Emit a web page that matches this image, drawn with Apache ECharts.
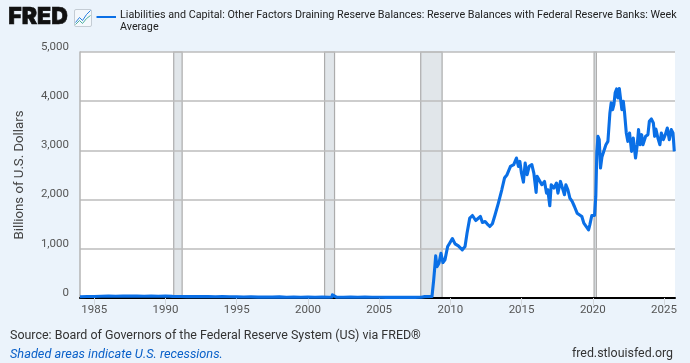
<!DOCTYPE html>
<html><head><meta charset="utf-8">
<script src="https://cdn.jsdelivr.net/npm/echarts@6/dist/echarts.min.js"></script>
<style>html,body{margin:0;padding:0;background:#ebf3fb}#c{width:690px;height:363px}</style>
</head><body><div id="c"></div>
<script>
const seriesName = 'Liabilities and Capital: Other Factors Draining Reserve Balances: Reserve Balances with Federal Reserve Banks: Week\nAverage';
const yAxisTitle = 'Billions of U.S. Dollars';
const yTicks = [0,1000,2000,3000,4000,5000];
const xTicks = [1985,1990,1995,2000,2005,2010,2015,2020,2025];
const years = [1984.0,1984.5,1985,1985.5,1986,1986.5,1987,1987.5,1988,1988.5,1989,1989.5,1990,1990.5,1991,1991.5,1992,1992.5,1993,1993.5,1994,1994.5,1995,1995.5,1996,1996.5,1997,1997.5,1998,1998.5,1999,1999.5,2000,2000.5,2001,2001.5,2001.69,2001.72,2001.76,2002,2002.5,2003,2003.5,2004,2004.5,2005,2005.5,2006,2006.5,2007,2007.5,2007.95,2008.2,2008.71,
2008.83,2008.92,2008.97,2009.06,2009.20,2009.34,2009.48,2009.62,2009.81,2009.95,2010.14,2010.33,2010.56,2010.84,2011.03,2011.17,2011.36,2011.55,2011.78,2011.92,2012.11,2012.25,2012.44,2012.58,2012.77,2012.95,2013.14,2013.37,2013.61,2013.80,2013.98,2014.22,2014.45,2014.64,2014.78,2014.88,2014.99,2015.13,2015.25,2015.39,2015.53,2015.72,2015.86,2016.02,2016.09,2016.23,2016.42,2016.61,2016.75,2016.84,2016.98,2017.08,2017.27,2017.45,2017.55,2017.73,
2017.85,2018.01,2018.11,2018.25,2018.39,2018.55,2018.71,2018.90,2019.04,2019.23,2019.37,2019.51,2019.70,2019.79,2019.93,2020.12,2020.21,2020.28,2020.36,2020.45,2020.54,2020.64,2020.78,2020.92,2021.06,2021.20,2021.29,2021.39,2021.48,2021.57,2021.67,2021.76,2021.86,2021.95,2022.04,2022.14,2022.23,2022.35,2022.46,2022.58,2022.72,2022.84,2023.00,2023.12,2023.21,2023.31,2023.43,2023.52,2023.71,2023.87,2023.97,2024.11,2024.25,2024.34,2024.43,2024.57,2024.71,2024.81,2024.95,2025.09,2025.23,2025.37,2025.51,2025.63,2025.72];
const balances = [25,30,32,35,38,36,40,38,42,36,38,35,40,34,32,28,30,28,30,26,28,24,22,20,22,18,20,18,22,16,18,16,20,14,18,16,20,65,30,18,16,20,15,18,14,16,12,16,12,14,12,14,28,30,
367,672,856,638,706,910,720,774,1046,1114,1209,1100,1059,978,1046,1317,1623,1677,1575,1555,1657,1535,1555,1508,1453,1508,1691,1929,2200,2438,2506,2675,2710,2845,2675,2777,2540,2356,2743,2506,2675,2710,2540,2146,2472,2438,2302,2370,2132,2200,1874,2302,2234,2336,2132,2370,
2335,2098,2301,2200,2030,1962,1860,1724,1690,1656,1521,1534,1385,1487,1677,1677,2064,2946,3286,3218,2641,2865,2865,3116,3184,3761,3965,3829,3931,4169,4250,4067,4257,4237,3829,3999,3761,3354,3184,3354,2980,3252,2845,3116,3422,3116,3320,3116,3286,3320,3592,3639,3558,3286,3435,3252,3116,3354,3218,3320,3456,3218,3422,3354,2980];
const recessions = [[1990.58,1991.17],[2001.17,2001.87],[2007.92,2009.42],[2020.09,2020.25]];
const sourceText = 'Source: Board of Governors of the Federal Reserve System (US) via FRED®';
const noteText = 'Shaded areas indicate U.S. recessions.';
const siteText = 'fred.stlouisfed.org';
const logoText = 'FRED';

const chart = echarts.init(document.getElementById('c'), null, {renderer:'canvas'});
const F = 'Roboto, sans-serif';
chart.setOption({
  backgroundColor:'#ebf3fb',
  animation:false,
  grid:{left:80,right:15,top:52,bottom:65,backgroundColor:'#fff',show:true,borderWidth:0},
  xAxis:{type:'value',min:1984.0,max:2025.77,
    axisLine:{show:true,onZero:false,lineStyle:{color:'#000',width:2}},
    axisTick:{show:true,length:7,lineStyle:{color:'#d4d8dc',width:1},customValues:xTicks},
    axisLabel:{customValues:xTicks,color:'#555',fontFamily:F,fontSize:11.5,margin:6,formatter:v=>String(v)},
    splitLine:{show:false},z:3},
  yAxis:{type:'value',min:0,max:5000,interval:1000,
    name:yAxisTitle,nameLocation:'middle',nameGap:54,nameTextStyle:{color:'#444',fontFamily:F,fontSize:13.2},
    axisLine:{show:true,lineStyle:{color:'#b4b4b4',width:1.5}},
    axisTick:{show:false},
    axisLabel:{color:'#555',fontFamily:F,fontSize:11.5,margin:11,verticalAlign:'bottom',lineHeight:12,padding:[0,0,-1,0],
      formatter:v=>yTicks.includes(v)?v.toLocaleString('en-US'):''},
    splitLine:{show:true,lineStyle:{color:'#bdbdbd',width:1.5}},z:1},
  series:[
    {type:'line',name:'Recessions',data:[],z:0,silent:true,
      markArea:{silent:true,z:0,itemStyle:{color:'#e1e6ea',borderColor:'#acacac',borderWidth:1.2},
        data:recessions.map(r=>[{xAxis:r[0]},{xAxis:r[1]}])}},
    {type:'line',name:'Reserve Balances',data:years.map((y,i)=>[y,balances[i]]),showSymbol:false,z:5,
      clip:true,lineStyle:{color:'#0a6fe6',width:3.1,join:'round'}}
  ],
  graphic:[
    {type:'text',left:8,top:5,z:10,style:{text:logoText,fontFamily:'Inter, sans-serif',fontWeight:900,fontSize:23,fill:'#111',stroke:'#111',lineWidth:0.6}},
    {type:'group',left:73,top:8,z:10,children:[
      {type:'rect',shape:{x:0,y:0,width:17,height:17,r:1.5},style:{fill:'#f4f8fc',stroke:'#c4ccd4',lineWidth:1}},
      {type:'polyline',shape:{points:[[1,13],[5,8],[8,11],[12,5],[16,1]]},style:{stroke:'#2a80e0',fill:null,lineWidth:1}},
      {type:'polyline',shape:{points:[[1,15],[5,11],[8,14],[12,9],[16,6]]},style:{stroke:'#4db0a0',fill:null,lineWidth:1}}
    ]},
    {type:'line',z:10,shape:{x1:96.5,y1:17,x2:116,y2:17},style:{stroke:'#0a6fe6',lineWidth:2}},
    {type:'text',z:10,left:120,top:9,style:{text:seriesName,fontFamily:F,fontSize:10.75,lineHeight:12.5,fill:'#222'}},
    {type:'text',z:10,left:10,top:330,style:{text:sourceText,fontFamily:F,fontSize:12.45,fill:'#333'}},
    {type:'text',z:10,left:10,top:348,style:{text:noteText,fontFamily:F,fontStyle:'italic',fontSize:12.75,fill:'#0a60c8'}},
    {type:'text',z:10,right:17,top:348,style:{text:siteText,fontFamily:F,fontSize:12.4,fill:'#333'}}
  ]
});
</script></body></html>
